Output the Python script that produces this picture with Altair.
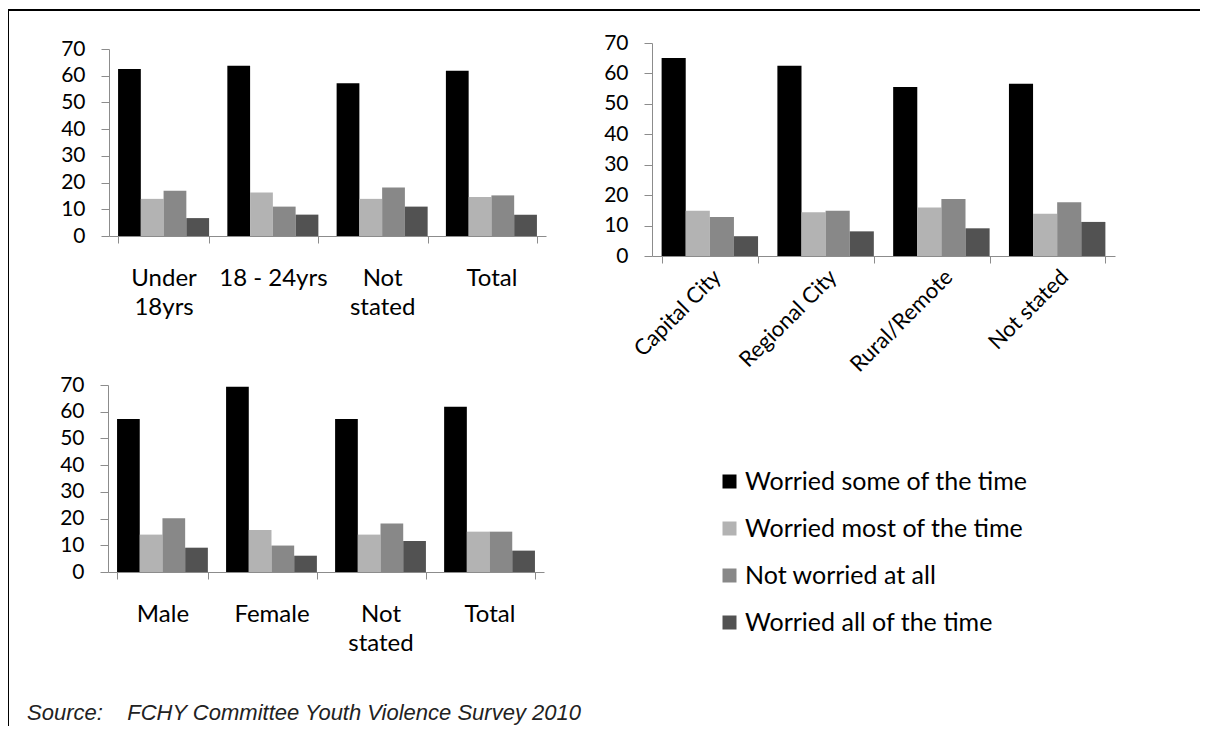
import altair as alt
import pandas as pd

# ---------------- data ----------------
series = ["Worried some of the time", "Worried most of the time",
          "Not worried at all", "Worried all of the time"]
series_colors = ["#000000", "#b3b3b3", "#888888", "#525252"]

age_cats = ["Under 18yrs", "18 - 24yrs", "Not stated", "Total"]
age_some = [62.5, 63.7, 57.2, 61.9]
age_most = [13.9, 16.3, 13.9, 14.6]
age_not = [16.9, 11.0, 18.2, 15.2]
age_all = [6.7, 8.0, 11.0, 8.0]

loc_cats = ["Capital City", "Regional City", "Rural/Remote", "Not stated"]
loc_some = [65.1, 62.5, 55.5, 56.6]
loc_most = [14.9, 14.4, 15.9, 13.9]
loc_not = [12.8, 14.9, 18.7, 17.7]
loc_all = [6.5, 8.1, 9.1, 11.2]

sex_cats = ["Male", "Female", "Not stated", "Total"]
sex_some = [57.3, 69.3, 57.3, 61.9]
sex_most = [14.0, 15.7, 14.0, 15.1]
sex_not = [20.1, 9.9, 18.2, 15.1]
sex_all = [9.1, 6.1, 11.6, 8.0]

y_ticks = [0, 10, 20, 30, 40, 50, 60, 70]
source_text = "Source:\u00a0\u00a0\u00a0 FCHY Committee Youth Violence Survey 2010"

# ---------------- layout ----------------
W, H = 1192, 718
FONT = "Lato"
AXC = "#8c8c8c"


def long_df(cats, vals):
    rows = []
    for s, vs in zip(series, vals):
        for c, v in zip(cats, vs):
            rows.append({"category": c, "series": s, "value": v})
    return pd.DataFrame(rows)


color_enc = alt.Color(
    "series:N",
    scale=alt.Scale(domain=series, range=series_colors),
    legend=alt.Legend(
        orient="none", legendX=709, legendY=461, title=None,
        symbolType="square", symbolSize=196, symbolStrokeWidth=0,
        symbolOpacity=1, labelFont=FONT, labelFontSize=25, labelLimit=0,
        labelColor="#000000", rowPadding=21, labelOffset=3, padding=0,
    ),
)


def panel(df, cats, xr, yr, label_expr=None, rotated=False):
    xa = dict(
        orient="bottom", offset=yr[0] - H, title=None, grid=False,
        tickBand="extent", tickSize=7, tickColor=AXC, domainColor=AXC,
        labelFont=FONT, labelFontSize=24, labelColor="#000000",
    )
    if rotated:
        xa.update(labelAngle=315, labelAlign="right", labelBaseline="top",
                  labelPadding=3, labelFontSize=22)
    else:
        xa.update(labelAngle=0, labelPadding=23, labelLineHeight=29)
    if label_expr:
        xa["labelExpr"] = label_expr
    ya = dict(
        orient="left", offset=-xr[0], title=None, grid=False,
        values=y_ticks, tickSize=8, tickColor=AXC, domainColor=AXC,
        labelFont=FONT, labelFontSize=21, labelColor="#000000",
        labelPadding=16,
    )
    return alt.Chart(df).mark_bar().encode(
        x=alt.X("category:N", sort=cats,
                scale=alt.Scale(range=list(xr), paddingInner=0.167,
                                paddingOuter=0.083),
                axis=alt.Axis(**xa)),
        xOffset=alt.XOffset("series:N", sort=series,
                            scale=alt.Scale(domain=series)),
        y=alt.Y("value:Q", scale=alt.Scale(domain=[0, 70], range=list(yr)),
                axis=alt.Axis(**ya)),
        color=color_enc,
    )


p1 = panel(long_df(age_cats, [age_some, age_most, age_not, age_all]),
           age_cats, (101, 538), (228, 41),
           label_expr="datum.label == '18 - 24yrs' ? datum.label : split(datum.label, ' ')")
p2 = panel(long_df(loc_cats, [loc_some, loc_most, loc_not, loc_all]),
           loc_cats, (644, 1107), (248, 35), rotated=True)
p3 = panel(long_df(sex_cats, [sex_some, sex_most, sex_not, sex_all]),
           sex_cats, (100, 536), (564, 377),
           label_expr="split(datum.label, ' ')")

one = pd.DataFrame({"t": [source_text]})
border_top = alt.Chart(one).mark_rule(color="#000000", strokeWidth=2).encode(
    x=alt.value(0), x2=alt.value(W), y=alt.value(2))
border_left = alt.Chart(one).mark_rule(color="#000000", strokeWidth=2).encode(
    x=alt.value(0), y=alt.value(2), y2=alt.value(H))
source = alt.Chart(one).mark_text(
    align="left", baseline="middle", font="Liberation Sans",
    fontStyle="italic", fontSize=22, color="#222222",
).encode(x=alt.value(19), y=alt.value(705), text="t:N")

chart = alt.layer(p1, p2, p3, border_top, border_left, source).resolve_scale(
    x="independent", y="independent", xOffset="independent"
).resolve_axis(
    x="independent", y="independent"
).properties(
    width=W, height=H, padding=0,
    autosize=alt.AutoSizeParams(type="none"),
).configure_view(stroke=None)

chart.save("out.html", embed_options={"renderer": "svg", "actions": False})
